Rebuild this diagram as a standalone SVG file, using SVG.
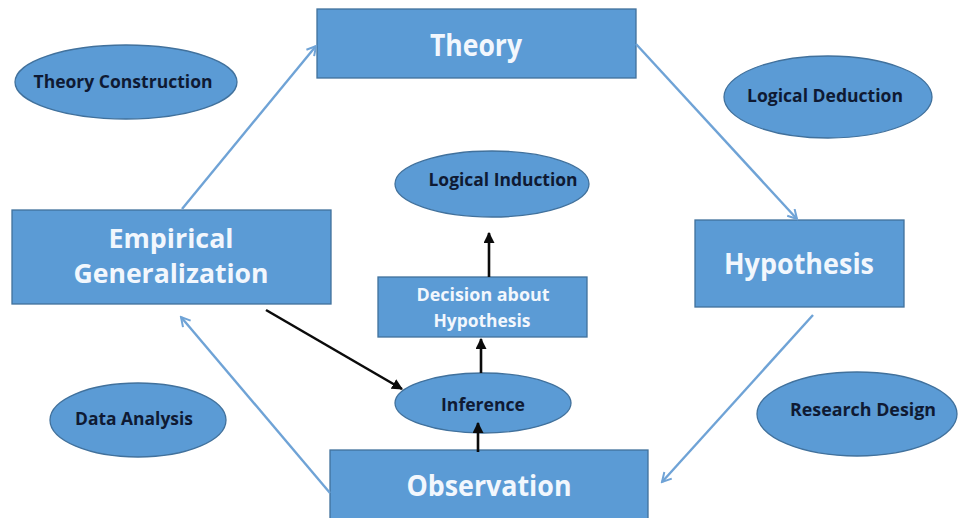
<svg xmlns="http://www.w3.org/2000/svg" width="958" height="518" viewBox="0 0 958 518">
  <style>
    .box { fill: #5b9bd5; stroke: #41719c; stroke-width: 1.3; }
    .oval { fill: #5b9bd5; stroke: #41719c; stroke-width: 1.3; }
    .big { font-family: "Open Sans", "Liberation Sans", sans-serif; font-weight: 700; fill: #f2f7fd; text-anchor: middle; }
    .lbl { font-family: "Open Sans", "Liberation Sans", sans-serif; font-weight: 700; fill: #0f1a33; text-anchor: middle; font-size: 18px; }
    .cycle { stroke: #6fa3d6; stroke-width: 2.4; fill: none; }
    .dark { stroke: #0b0b0b; stroke-width: 2.6; fill: none; }
  </style>
  <defs>
    <marker id="openHead" viewBox="0 0 12 12" refX="10" refY="6" markerWidth="12" markerHeight="12" markerUnits="userSpaceOnUse" orient="auto">
      <path d="M1,1 L10,6 L1,11" fill="none" stroke="#6fa3d6" stroke-width="2"/>
    </marker>
    <marker id="solidHead" viewBox="0 0 10 10" refX="9" refY="5" markerWidth="11" markerHeight="11" markerUnits="userSpaceOnUse" orient="auto">
      <path d="M0,0 L10,5 L0,10 z" fill="#0b0b0b"/>
    </marker>
  </defs>
  <rect width="958" height="518" fill="#ffffff"/>

  <!-- rectangles -->
  <g id="theory">
    <rect class="box" x="317" y="9" width="319" height="69"/>
    <text class="big" x="476" y="56" font-size="31" textLength="92" lengthAdjust="spacingAndGlyphs">Theory</text>
  </g>
  <g id="empirical-generalization">
    <rect class="box" x="12" y="210" width="319" height="94"/>
    <text class="big" x="171" y="248" font-size="27" textLength="125" lengthAdjust="spacingAndGlyphs">Empirical</text>
    <text class="big" x="171" y="283" font-size="27" textLength="195" lengthAdjust="spacingAndGlyphs">Generalization</text>
  </g>
  <g id="hypothesis">
    <rect class="box" x="695" y="220" width="209" height="87"/>
    <text class="big" x="799" y="274" font-size="28" textLength="150" lengthAdjust="spacingAndGlyphs">Hypothesis</text>
  </g>
  <g id="observation">
    <rect class="box" x="330" y="450" width="318" height="70"/>
    <text class="big" x="489" y="496" font-size="28" textLength="165" lengthAdjust="spacingAndGlyphs">Observation</text>
  </g>
  <g id="decision">
    <rect class="box" x="378" y="277" width="209" height="60"/>
    <text class="big" x="483" y="301" font-size="18" textLength="133" lengthAdjust="spacingAndGlyphs">Decision about</text>
    <text class="big" x="482" y="327" font-size="18" textLength="97" lengthAdjust="spacingAndGlyphs">Hypothesis</text>
  </g>

  <!-- ellipses -->
  <g id="theory-construction">
    <ellipse class="oval" cx="126" cy="82" rx="111" ry="37"/>
    <text class="lbl" x="123" y="88" textLength="179" lengthAdjust="spacingAndGlyphs">Theory Construction</text>
  </g>
  <g id="logical-deduction">
    <ellipse class="oval" cx="828" cy="97" rx="104" ry="41"/>
    <text class="lbl" x="825" y="102" textLength="156" lengthAdjust="spacingAndGlyphs">Logical Deduction</text>
  </g>
  <g id="logical-induction">
    <ellipse class="oval" cx="492" cy="184" rx="97" ry="33"/>
    <text class="lbl" x="503" y="186" textLength="149" lengthAdjust="spacingAndGlyphs">Logical Induction</text>
  </g>
  <g id="inference">
    <ellipse class="oval" cx="483" cy="403" rx="88" ry="30"/>
    <text class="lbl" x="483" y="411" textLength="84" lengthAdjust="spacingAndGlyphs">Inference</text>
  </g>
  <g id="data-analysis">
    <ellipse class="oval" cx="138" cy="420" rx="88" ry="37"/>
    <text class="lbl" x="134" y="425" textLength="118" lengthAdjust="spacingAndGlyphs">Data Analysis</text>
  </g>
  <g id="research-design">
    <ellipse class="oval" cx="857" cy="414" rx="100" ry="42"/>
    <text class="lbl" x="863" y="416" textLength="146" lengthAdjust="spacingAndGlyphs">Research Design</text>
  </g>

  <!-- connectors -->
  <g id="connectors">
    <line class="cycle" x1="182" y1="209" x2="316" y2="46" marker-end="url(#openHead)"/>
    <line class="cycle" x1="636" y1="44" x2="797" y2="219" marker-end="url(#openHead)"/>
    <line class="cycle" x1="813" y1="315" x2="662" y2="482" marker-end="url(#openHead)"/>
    <line class="cycle" x1="330" y1="493" x2="181" y2="317" marker-end="url(#openHead)"/>
    <line class="dark" x1="266" y1="310" x2="402" y2="389" marker-end="url(#solidHead)"/>
    <line class="dark" x1="478" y1="452" x2="478" y2="423" marker-end="url(#solidHead)"/>
    <line class="dark" x1="481" y1="373" x2="481" y2="339" marker-end="url(#solidHead)"/>
    <line class="dark" x1="489" y1="277" x2="489" y2="233" marker-end="url(#solidHead)"/>
  </g>
</svg>
